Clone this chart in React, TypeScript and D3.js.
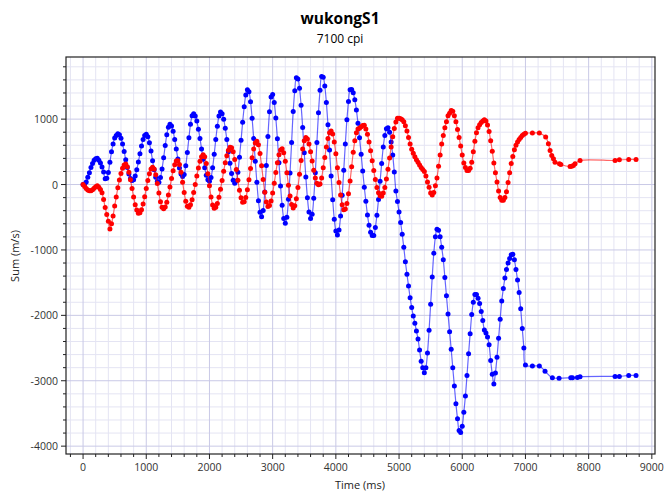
import React from "react";
import * as d3 from "d3";

const TITLE = "wukongS1";
const SUBTITLE = "7100 cpi";
const X_LABEL = "Time (ms)";
const Y_LABEL = "Sum (m/s)";
const X_TICKS = [0, 1000, 2000, 3000, 4000, 5000, 6000, 7000, 8000, 9000];
const Y_TICKS = [-4000, -3000, -2000, -1000, 0, 1000];

// Samples every 25 ms from 0 to 7000 ms (one row = 250 ms), then irregular tail samples.
const SAMPLE_STEP_MS = 25;

const BLUE_VALUES = [
  0, 10, 40, 110, 180, 260, 320, 370, 395, 402,
  370, 330, 270, 190, 90, 95, 185, 340, 500, 620,
  710, 750, 775, 760, 707, 618, 506, 380, 260, 161,
  92, 61, 74, 131, 228, 345, 472, 590, 688, 749,
  767, 730, 639, 512, 365, 227, 112, 47, 36, 106,
  239, 411, 595, 761, 875, 920, 895, 816, 689, 542,
  390, 253, 162, 121, 155, 289, 488, 714, 920, 1050,
  1084, 1049, 970, 847, 705, 545, 388, 258, 141, 72,
  51, 108, 255, 462, 690, 891, 1048, 1109, 1084, 999,
  859, 689, 501, 325, 170, 66, 20, 54, 188, 418,
  676, 951, 1190, 1370, 1450, 1417, 1267, 1013, 702, 356,
  34, -248, -425, -491, -396, -113, 291, 734, 1111, 1337,
  1378, 1256, 1017, 699, 334, -21, -317, -520, -593, -502,
  -225, 176, 644, 1117, 1435, 1632, 1615, 1472, 1211, 873,
  487, 114, -203, -421, -518, -455, -209, 181, 642, 1099,
  1443, 1650, 1639, 1506, 1253, 915, 529, 131, -233, -529,
  -711, -772, -694, -482, -163, 220, 621, 989, 1268, 1450,
  1453, 1403, 1298, 1141, 938, 714, 463, 208, -41, -256,
  -464, -621, -728, -781, -780, -658, -468, -227, 49, 322,
  574, 751, 853, 868, 800, 650, 450, 190, -100, -260,
  -420, -580, -760, -960, -1180, -1370, -1550, -1730, -1880, -2010,
  -2120, -2240, -2360, -2530, -2700, -2800, -2878, -2800, -2575, -2227,
  -1830, -1414, -1049, -799, -682, -700, -800, -960, -1150, -1420,
  -1700, -1980, -2250, -2520, -2800, -3080, -3350, -3580, -3760, -3790,
  -3697, -3480, -3234, -2920, -2586, -2280, -1987, -1800, -1682, -1680,
  -1740, -1820, -1940, -2080, -2225, -2270, -2330, -2450, -2690, -2900,
  -3050, -2880, -2640, -2350, -2060, -1779, -1590, -1430, -1300, -1200,
  -1130, -1075, -1065, -1150, -1300, -1460, -1650, -1900, -2200, -2500,
  -2760,
];
const BLUE_TAIL_TIMES = [7110, 7220, 7310, 7426, 7532, 7717, 7744, 7822, 7864, 8418, 8486, 8634, 8750];
const BLUE_TAIL_VALUES = [-2776, -2776, -2853, -2955, -2960, -2955, -2955, -2950, -2940, -2934, -2934, -2919, -2919];

const RED_VALUES = [
  0, -30, -60, -85, -95, -95, -80, -55, -35, -20,
  -40, -75, -125, -230, -350, -460, -560, -680, -600, -480,
  -330, -190, -50, 70, 170, 250, 300, 314, 272, 186,
  73, -59, -190, -308, -391, -438, -433, -386, -299, -187,
  -59, 63, 166, 237, 266, 239, 148, 17, -129, -264,
  -349, -372, -342, -269, -161, -37, 93, 212, 304, 358,
  364, 307, 189, 36, -121, -255, -333, -346, -308, -232,
  -123, 1, 132, 254, 356, 426, 455, 426, 321, 164,
  -20, -189, -311, -363, -346, -290, -193, -71, 62, 203,
  335, 442, 525, 570, 564, 500, 381, 230, 65, -86,
  -202, -269, -263, -199, -81, 74, 247, 409, 545, 634,
  660, 608, 474, 289, 77, -118, -267, -336, -321, -250,
  -131, 21, 183, 335, 456, 529, 547, 485, 355, 180,
  -11, -177, -307, -358, -326, -218, -46, 156, 366, 545,
  668, 720, 698, 621, 501, 361, 220, 99, 20, -5,
  10, 100, 258, 415, 573, 702, 790, 818, 773, 652,
  469, 255, 33, -159, -308, -385, -374, -291, -140, 53,
  272, 494, 670, 790, 850, 862, 885, 902, 905, 851,
  769, 652, 515, 363, 213, 77, -44, -126, -171, -178,
  -131, -44, 84, 235, 406, 573, 730, 857, 957, 1015,
  1015, 1005, 990, 960, 900, 820, 720, 620, 540, 480,
  425, 380, 340, 300, 260, 230, 200, 130, 40, -40,
  -130, -160, -120, -20, 100, 280, 450, 620, 750, 870,
  960, 1050, 1090, 1133, 1120, 1050, 960, 840, 720, 590,
  450, 330, 260, 215, 215, 250, 342, 500, 660, 790,
  870, 915, 950, 970, 990, 970, 910, 810, 670, 510,
  330, 180, 40, -100, -200, -240, -240, -200, -110, 30,
  180, 320, 430, 530, 600, 650, 690, 720, 750, 770,
  785,
];
const RED_TAIL_TIMES = [7110, 7220, 7320, 7363, 7390, 7416, 7443, 7468, 7538, 7560, 7706, 7733, 7759, 7785, 7864, 8418, 8486, 8634, 8750];
const RED_TAIL_VALUES = [787, 787, 726, 624, 521, 445, 394, 342, 317, 306, 276, 281, 291, 317, 368, 368, 378, 383, 383];

type Pt = { t: number; v: number };

function buildSeries(values: number[], tailT: number[], tailV: number[]): Pt[] {
  const pts: Pt[] = values.map((v, i) => ({ t: i * SAMPLE_STEP_MS, v }));
  tailT.forEach((t, i) => pts.push({ t, v: tailV[i] }));
  return pts;
}

const W = 670;
const H = 503;
const PLOT = { left: 66, right: 655, top: 57, bottom: 454 };
const FONT = "'Open Sans', 'Noto Sans', sans-serif";

export default function App() {
  const x = d3.scaleLinear().domain([-270, 9050]).range([PLOT.left, PLOT.right]);
  const y = d3.scaleLinear().domain([-4120, 1950]).range([PLOT.bottom, PLOT.top]);

  const blue = buildSeries(BLUE_VALUES, BLUE_TAIL_TIMES, BLUE_TAIL_VALUES);
  const red = buildSeries(RED_VALUES, RED_TAIL_TIMES, RED_TAIL_VALUES);

  const line = d3
    .line<Pt>()
    .x((d) => x(d.t))
    .y((d) => y(d.v))
    .curve(d3.curveCatmullRom.alpha(0.5));

  const xMinor = d3.range(-200, 9001, 200).filter((v) => v % 1000 !== 0);
  const yMinor = d3.range(-4000, 1901, 200).filter((v) => v % 1000 !== 0);

  const series = [
    { pts: blue, color: "#0000ff" },
    { pts: red, color: "#ff0000" },
  ];

  return (
    <svg width={W} height={H} style={{ position: "absolute", left: 0, top: 0, background: "#fff" }} fontFamily={FONT}>
      <rect x={0} y={0} width={W} height={H} fill="#fff" />
      <text x={340} y={24} textAnchor="middle" fontSize={15.5} fontWeight="bold" fill="#000">
        {TITLE}
      </text>
      <text x={340} y={43} textAnchor="middle" fontSize={12} fill="#000">
        {SUBTITLE}
      </text>
      <defs>
        <clipPath id="plotclip">
          <rect x={PLOT.left} y={PLOT.top} width={PLOT.right - PLOT.left} height={PLOT.bottom - PLOT.top} />
        </clipPath>
      </defs>
      <g>
        {xMinor.map((v) => (
          <line key={"xm" + v} x1={x(v)} x2={x(v)} y1={PLOT.top} y2={PLOT.bottom} stroke="#e4e4f3" strokeWidth={1} />
        ))}
        {yMinor.map((v) => (
          <line key={"ym" + v} x1={PLOT.left} x2={PLOT.right} y1={y(v)} y2={y(v)} stroke="#e4e4f3" strokeWidth={1} />
        ))}
        {X_TICKS.map((v) => (
          <line key={"xg" + v} x1={x(v)} x2={x(v)} y1={PLOT.top} y2={PLOT.bottom} stroke="#c9c9e6" strokeWidth={1} />
        ))}
        {Y_TICKS.map((v) => (
          <line key={"yg" + v} x1={PLOT.left} x2={PLOT.right} y1={y(v)} y2={y(v)} stroke="#c9c9e6" strokeWidth={1} />
        ))}
      </g>
      <g clipPath="url(#plotclip)">
        {series.map((s, si) => (
          <g key={si}>
            <path d={line(s.pts) || ""} fill="none" stroke={s.color} strokeOpacity={0.6} strokeWidth={1.2} />
            {s.pts.map((p, i) => (
              <circle key={i} cx={x(p.t)} cy={y(p.v)} r={2.5} fill={s.color} />
            ))}
          </g>
        ))}
      </g>
      <rect
        x={PLOT.left}
        y={PLOT.top}
        width={PLOT.right - PLOT.left}
        height={PLOT.bottom - PLOT.top}
        fill="none"
        stroke="#222"
        strokeWidth={1.2}
      />
      {X_TICKS.map((v) => (
        <g key={"xt" + v}>
          <line x1={x(v)} x2={x(v)} y1={PLOT.bottom} y2={PLOT.bottom + 5} stroke="#222" />
          <text x={x(v)} y={PLOT.bottom + 17} textAnchor="middle" fontSize={10.5} fill="#333">
            {v}
          </text>
        </g>
      ))}
      {xMinor.map((v) => (
        <line key={"xmt" + v} x1={x(v)} x2={x(v)} y1={PLOT.bottom} y2={PLOT.bottom + 3} stroke="#222" />
      ))}
      {Y_TICKS.map((v) => (
        <g key={"yt" + v}>
          <line x1={PLOT.left - 5} x2={PLOT.left} y1={y(v)} y2={y(v)} stroke="#222" />
          <text x={PLOT.left - 8} y={y(v) + 4} textAnchor="end" fontSize={10.5} fill="#333">
            {v}
          </text>
        </g>
      ))}
      {yMinor.map((v) => (
        <line key={"ymt" + v} x1={PLOT.left - 3} x2={PLOT.left} y1={y(v)} y2={y(v)} stroke="#222" />
      ))}
      <text x={360} y={489} textAnchor="middle" fontSize={11} fill="#222">
        {X_LABEL}
      </text>
      <text transform={`translate(19, 256) rotate(-90)`} textAnchor="middle" fontSize={11} fill="#222">
        {Y_LABEL}
      </text>
    </svg>
  );
}
